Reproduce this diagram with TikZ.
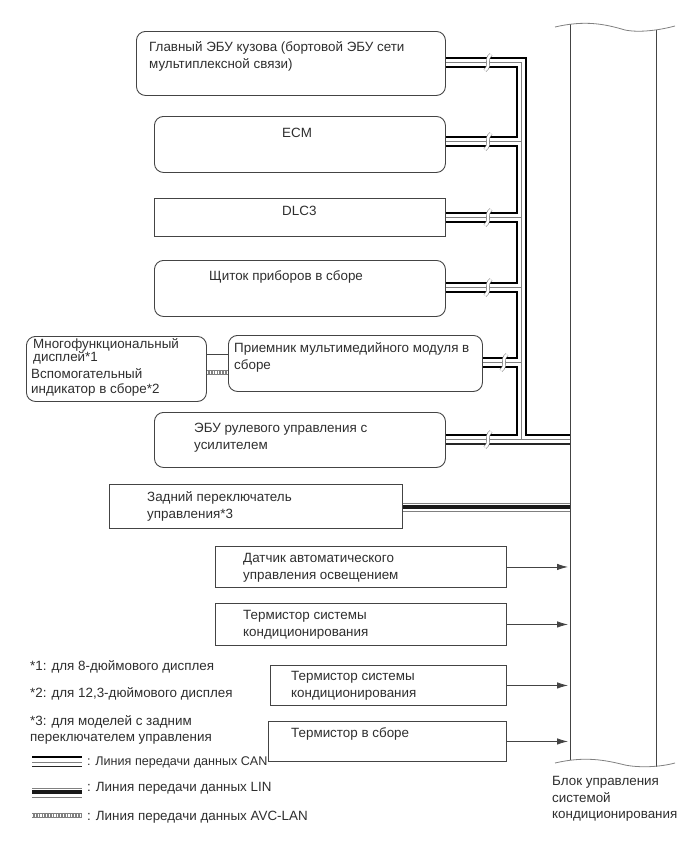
\documentclass[tikz,border=0pt]{standalone}
\usepackage{fontspec}
\usetikzlibrary{arrows.meta}
\setmainfont{Liberation Sans}
\tikzset{
  roundbox/.style={draw=linegray,line width=0.9pt,rounded corners=9pt,inner sep=0pt,anchor=north west},
  flatbox/.style={draw=linegray,line width=0.9pt,inner sep=0pt,anchor=north west},
  lbl/.style={anchor=north west,inner sep=0pt,align=left,text=textgray,font=\fontsize{13.4}{17.2}\selectfont},
  canblack/.style={black,line width=2.6pt,line join=miter},
  canthin/.style={black!85,line width=1.4pt},
  canmid/.style={gray,line width=0.8pt},
  linedge/.style={gray,line width=1pt},
  linblack/.style={black!90,line width=3.2pt},
  avcedge/.style={gray,line width=5pt},
  avchatch/.style={white,line width=3pt,dash pattern=on 1.2pt off 1.6pt},
  feed/.style={linegray,line width=0.8pt,-{Latex[length=11pt,width=6.5pt]},shorten >=2pt},
  breakmark/.style={gray,line width=0.6pt,double=white,double distance=2.4pt},
}
\definecolor{linegray}{HTML}{444444}
\definecolor{textgray}{HTML}{2E2E2E}

\begin{document}
\begin{tikzpicture}[x=1pt,y=-1pt]
\useasboundingbox (0,0) rectangle (690,855);

% control unit on the right
\node[inner sep=0pt,minimum width=86pt,minimum height=736pt,anchor=north west] (block) at (570,24) {};
\draw[linegray,line width=0.8pt] (block.north west) -- (block.south west);
\draw[linegray,line width=0.8pt] ([yshift=-6pt]block.north east) -- ([yshift=-7pt]block.south east);
\draw[gray,line width=0.8pt] (555,27) .. controls (585,20) and (605,24) .. (625,30) .. controls (640,33) and (660,30) .. (675,26);
\draw[gray,line width=0.8pt] (555,763) .. controls (585,756) and (605,760) .. (625,765) .. controls (640,768) and (660,767) .. (675,763);

% boxes
\node[roundbox,minimum width=309pt,minimum height=64pt] (main) at (136,31) {};
\node[roundbox,minimum width=291pt,minimum height=56pt] (ecm) at (154,116) {};
\node[flatbox,minimum width=291pt,minimum height=38pt] (dlc) at (154,198) {};
\node[roundbox,minimum width=291pt,minimum height=56pt] (meter) at (154,260) {};
\node[roundbox,minimum width=180pt,minimum height=65pt] (disp) at (26,336) {};
\node[roundbox,minimum width=254pt,minimum height=56pt] (radio) at (228,335) {};
\node[roundbox,minimum width=291pt,minimum height=55pt] (steer) at (154,412) {};
\node[flatbox,minimum width=293pt,minimum height=44pt] (rear) at (109,484) {};
\node[flatbox,minimum width=291pt,minimum height=41pt] (sensor) at (215,546) {};
\node[flatbox,minimum width=291pt,minimum height=42pt] (thermA) at (215,603) {};
\node[flatbox,minimum width=236pt,minimum height=40pt] (thermB) at (270,665) {};
\node[flatbox,minimum width=238pt,minimum height=40pt] (thermC) at (268,721) {};

% texts in the boxes
\node[lbl] (mainT) at (149,41) {Главный ЭБУ кузова (бортовой ЭБУ сети\\мультиплексной связи)};
\node[lbl] (ecmT) at (282,128) {ECM};
\node[lbl] (dlcT) at (282,206) {DLC3};
\node[lbl] (meterT) at (209,270) {Щиток приборов в сборе};
\node[lbl,font=\fontsize{13.4}{13.4}\selectfont] (dispT) at (33,338) {Многофункциональный\\дисплей*1};
\node[lbl,font=\fontsize{13.4}{15.5}\selectfont] (auxT) at (31,368) {Вспомогательный\\индикатор в сборе*2};
\node[lbl] (radioT) at (234,342) {Приемник мультимедийного модуля в\\сборе};
\node[lbl] (steerT) at (194,423) {ЭБУ рулевого управления с\\усилителем};
\node[lbl] (rearT) at (147,491) {Задний переключатель\\управления*3};
\node[lbl] (sensorT) at (243,553) {Датчик автоматического\\управления освещением};
\node[lbl] (thermAT) at (243,610) {Термистор системы\\кондиционирования};
\node[lbl,font=\fontsize{13.4}{16.5}\selectfont] (thermBT) at (291,671.5) {Термистор системы\\кондиционирования};
\node[lbl] (thermCT) at (291,727) {Термистор в сборе};

% bus lanes
\coordinate (busin) at (517,0);
\coordinate (busmid) at (521.5,0);
\coordinate (busout) at (526,0);

% CAN bus, gray centre first
\foreach \nd/\yy in {main/62.5,ecm/141.5,dlc/217.5,meter/287.5}
  \draw[canmid] (\nd.east |- 0,\yy) -- (busmid |- 0,\yy);
\draw[canmid] (radio.east |- 0,362.5) -- (busmid |- 0,362.5);
\draw[canmid] (busmid |- 0,62.5) -- (busmid |- 0,439.5) -- (block.west |- 0,439.5);
\draw[canmid] (steer.east |- 0,439.5) -- (busmid |- 0,439.5);

\draw[canblack] (main.east |- 0,58) -- (busout |- 0,58) -- (busout |- 0,435) -- (block.west |- 0,435);
\draw[canblack] (main.east |- 0,67) -- (busin |- 0,67) -- (busin |- 0,137) -- (ecm.east |- 0,137);
\draw[canblack] (ecm.east |- 0,146) -- (busin |- 0,146) -- (busin |- 0,213) -- (dlc.east |- 0,213);
\draw[canblack] (dlc.east |- 0,222) -- (busin |- 0,222) -- (busin |- 0,283) -- (meter.east |- 0,283);
\draw[canblack] (meter.east |- 0,292) -- (busin |- 0,292) -- (busin |- 0,358) -- (radio.east |- 0,358);
\draw[canblack] (radio.east |- 0,367) -- (busin |- 0,367) -- (busin |- 0,435) -- (steer.east |- 0,435);
\draw[canthin] (steer.east |- 0,444) -- (block.west |- 0,444);

% breaks in the stubs
\foreach \xx/\yy in {488/62.5,488/141.5,488/217.5,488/287.5,504/362.5,488/439.5}
  \draw[breakmark] (\xx+3,\yy-8) .. controls (\xx-4,\yy-2) and (\xx+4,\yy+2) .. (\xx-3,\yy+8);

% LIN from the rear switch
\draw[linedge] (rear.east |- 0,503) -- (block.west |- 0,503);
\draw[linedge] (rear.east |- 0,511.5) -- (block.west |- 0,511.5);
\draw[linblack] (rear.east |- 0,507) -- (block.west |- 0,507);

% display to receiver
\draw[linegray,line width=0.7pt] (disp.east |- 0,354) -- (radio.west |- 0,354);
\draw[avcedge] (disp.east |- 0,372) -- (radio.west |- 0,372);
\draw[avchatch] (disp.east |- 0,372) -- (radio.west |- 0,372);

% plain signal inputs
\foreach \nd in {sensor,thermA,thermB,thermC}
  \draw[feed] (\nd.east) -- (\nd.east -| block.west);

% notes
\node[lbl] (noteA) at (30,660) {*1: для 8-дюймового дисплея};
\node[lbl] (noteB) at (30,687) {*2: для 12,3-дюймового дисплея};
\node[lbl,font=\fontsize{13.4}{16.5}\selectfont] (noteC) at (30,715) {*3: для моделей с задним\\переключателем управления};

% legend
\coordinate (canL) at (32,757);
\coordinate (canR) at (82,757);
\draw[canblack] (canL) -- (canR);
\draw[canmid] ([yshift=-5pt]canL) -- ([yshift=-5pt]canR);
\draw[canthin] ([yshift=-9.5pt]canL) -- ([yshift=-9.5pt]canR);
\node[lbl,font=\fontsize{12.6}{16}\selectfont] (legA) at (87,756) {: Линия передачи данных CAN};
\coordinate (linL) at (32,792);
\coordinate (linR) at (82,792);
\draw[linedge] ([yshift=4pt]linL) -- ([yshift=4pt]linR);
\draw[linedge] ([yshift=-5pt]linL) -- ([yshift=-5pt]linR);
\draw[linblack] (linL) -- (linR);
\node[lbl] (legB) at (87,782) {: Линия передачи данных LIN};
\coordinate (avcL) at (32,815.5);
\coordinate (avcR) at (82,815.5);
\draw[avcedge] (avcL) -- (avcR);
\draw[avchatch] (avcL) -- (avcR);
\node[lbl] (legC) at (87,811) {: Линия передачи данных AVC-LAN};

\node[lbl,font=\fontsize{13.4}{16.5}\selectfont] (blockT) at (552,776.5) {Блок управления\\системой\\кондиционирования};
\end{tikzpicture}
\end{document}
